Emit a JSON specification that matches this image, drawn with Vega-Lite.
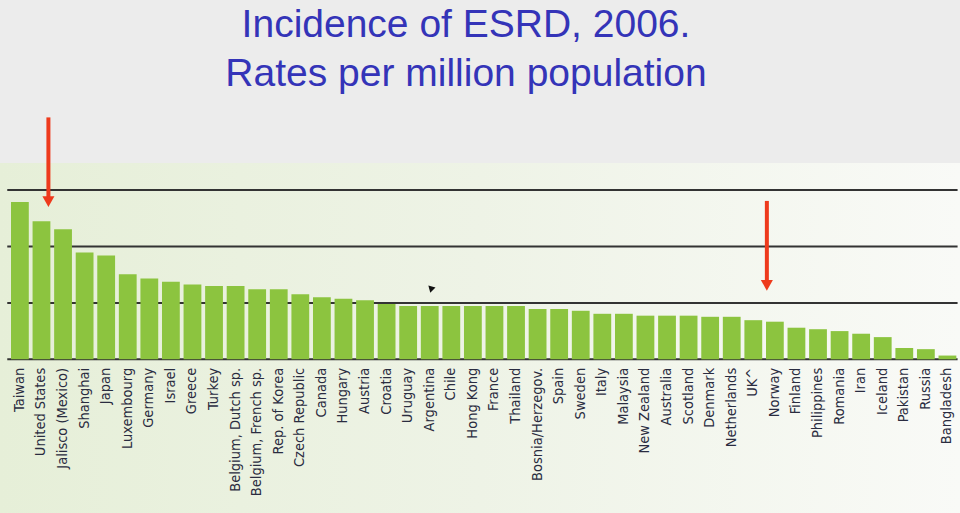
{
  "$schema": "https://vega.github.io/schema/vega-lite/v6.json",
  "width": 960,
  "height": 350,
  "autosize": {"type": "none"},
  "padding": {"top": 163, "left": 0, "right": 0, "bottom": 0},
  "background": "#ececec",
  "view": {
    "stroke": null,
    "fill": {
      "gradient": "linear",
      "x1": 0, "y1": 0, "x2": 1, "y2": 0,
      "stops": [
        {"offset": 0, "color": "#e6efd8"},
        {"offset": 0.5, "color": "#eef3e6"},
        {"offset": 1, "color": "#f9faf7"}
      ]
    }
  },
  "title": {
    "text": ["Incidence of ESRD, 2006.", "Rates per million population"],
    "font": "Liberation Sans",
    "fontSize": 39,
    "fontWeight": "normal",
    "color": "#3434b8",
    "lineHeight": 49,
    "anchor": "middle",
    "frame": "group",
    "offset": 21,
    "dx": -14
  },
  "datasets": {
    "rates": [
      {"country": "Taiwan", "rate": 418},
      {"country": "United States", "rate": 367},
      {"country": "Jalisco (Mexico)", "rate": 346},
      {"country": "Shanghai", "rate": 284},
      {"country": "Japan", "rate": 276},
      {"country": "Luxembourg", "rate": 226},
      {"country": "Germany", "rate": 215},
      {"country": "Israel", "rate": 206},
      {"country": "Greece", "rate": 199},
      {"country": "Turkey", "rate": 195},
      {"country": "Belgium, Dutch sp.", "rate": 195},
      {"country": "Belgium, French sp.", "rate": 186},
      {"country": "Rep. of Korea", "rate": 186},
      {"country": "Czech Republic", "rate": 173},
      {"country": "Canada", "rate": 165},
      {"country": "Hungary", "rate": 161},
      {"country": "Austria", "rate": 157},
      {"country": "Croatia", "rate": 147},
      {"country": "Uruguay", "rate": 142},
      {"country": "Argentina", "rate": 142},
      {"country": "Chile", "rate": 142},
      {"country": "Hong Kong", "rate": 142},
      {"country": "France", "rate": 142},
      {"country": "Thailand", "rate": 142},
      {"country": "Bosnia/Herzegov.", "rate": 134},
      {"country": "Spain", "rate": 134},
      {"country": "Sweden", "rate": 129},
      {"country": "Italy", "rate": 121},
      {"country": "Malaysia", "rate": 121},
      {"country": "New Zealand", "rate": 116},
      {"country": "Australia", "rate": 116},
      {"country": "Scotland", "rate": 116},
      {"country": "Denmark", "rate": 113},
      {"country": "Netherlands", "rate": 113},
      {"country": "UK^", "rate": 104},
      {"country": "Norway", "rate": 100},
      {"country": "Finland", "rate": 84},
      {"country": "Philippines", "rate": 80},
      {"country": "Romania", "rate": 75},
      {"country": "Iran", "rate": 68},
      {"country": "Iceland", "rate": 59},
      {"country": "Pakistan", "rate": 30},
      {"country": "Russia", "rate": 27},
      {"country": "Bangladesh", "rate": 10}
    ],
    "grid": [
      {"g": 0, "from": "Taiwan", "to": "Bangladesh"},
      {"g": 150, "from": "Taiwan", "to": "Bangladesh"},
      {"g": 300, "from": "Taiwan", "to": "Bangladesh"},
      {"g": 450, "from": "Taiwan", "to": "Bangladesh"}
    ],
    "arrows": [
      {"country": "United States", "top": 643, "neck": 426, "tip": 405},
      {"country": "Norway", "top": 421, "neck": 203, "tip": 182}
    ],
    "cursor": [
      {"country": "Argentina", "y": 190}
    ]
  },
  "encoding": {
    "y": {
      "type": "quantitative",
      "scale": {"domain": [-408.5, 521.8], "nice": false, "zero": false},
      "axis": null
    }
  },
  "layer": [
    {
      "data": {"name": "grid"},
      "mark": {"type": "rule", "color": "#333333", "strokeWidth": 2},
      "encoding": {
        "x": {"field": "from", "type": "nominal", "bandPosition": -0.21},
        "x2": {"field": "to", "bandPosition": 1.07},
        "y": {"field": "g", "type": "quantitative"}
      }
    },
    {
      "data": {"name": "rates"},
      "mark": {"type": "bar", "color": "#8cc43f"},
      "encoding": {
        "x": {
          "field": "country",
          "type": "nominal",
          "sort": null,
          "scale": {
            "domain": ["Taiwan", "United States", "Jalisco (Mexico)", "Shanghai", "Japan", "Luxembourg", "Germany", "Israel", "Greece", "Turkey", "Belgium, Dutch sp.", "Belgium, French sp.", "Rep. of Korea", "Czech Republic", "Canada", "Hungary", "Austria", "Croatia", "Uruguay", "Argentina", "Chile", "Hong Kong", "France", "Thailand", "Bosnia/Herzegov.", "Spain", "Sweden", "Italy", "Malaysia", "New Zealand", "Australia", "Scotland", "Denmark", "Netherlands", "UK^", "Norway", "Finland", "Philippines", "Romania", "Iran", "Iceland", "Pakistan", "Russia", "Bangladesh"],
            "paddingInner": 0.175,
            "paddingOuter": 0.34,
            "align": 0.75
          },
          "axis": {
            "orient": "bottom",
            "offset": -153.7,
            "domain": false,
            "ticks": false,
            "tickSize": 0,
            "grid": false,
            "title": null,
            "labelAngle": -90,
            "labelPadding": 8,
            "labelFont": "DejaVu Sans Condensed, Liberation Sans, sans-serif",
            "labelFontSize": 14.5,
            "labelColor": "#2a2c40",
            "labelOverlap": false,
            "labelLimit": 0
          }
        },
        "y": {"field": "rate", "type": "quantitative"},
        "y2": {"datum": 0}
      }
    },
    {
      "data": {"name": "arrows"},
      "transform": [{"filter": "datum.country === 'United States'"}],
      "layer": [
        {
          "mark": {"type": "rule", "color": "#ee3a1c", "strokeWidth": 4},
          "encoding": {
            "x": {"field": "country", "type": "nominal", "bandPosition": 0.89},
            "y": {"field": "top", "type": "quantitative"},
            "y2": {"field": "neck"}
          }
        },
        {
          "mark": {"type": "point", "shape": "M-1,-1.8L1,-1.8L0,0Z", "filled": true, "opacity": 1, "color": "#ee3a1c", "size": 144},
          "encoding": {
            "x": {"field": "country", "type": "nominal", "bandPosition": 0.89},
            "y": {"field": "tip", "type": "quantitative"}
          }
        }
      ]
    },
    {
      "data": {"name": "arrows"},
      "transform": [{"filter": "datum.country === 'Norway'"}],
      "layer": [
        {
          "mark": {"type": "rule", "color": "#ee3a1c", "strokeWidth": 4},
          "encoding": {
            "x": {"field": "country", "type": "nominal", "bandPosition": 0.05},
            "y": {"field": "top", "type": "quantitative"},
            "y2": {"field": "neck"}
          }
        },
        {
          "mark": {"type": "point", "shape": "M-1,-1.8L1,-1.8L0,0Z", "filled": true, "opacity": 1, "color": "#ee3a1c", "size": 144},
          "encoding": {
            "x": {"field": "country", "type": "nominal", "bandPosition": 0.05},
            "y": {"field": "tip", "type": "quantitative"}
          }
        }
      ]
    },
    {
      "data": {"name": "cursor"},
      "mark": {"type": "point", "shape": "triangle-up", "filled": true, "opacity": 1, "color": "#111111", "size": 55, "angle": -45},
      "encoding": {
        "x": {"field": "country", "type": "nominal", "bandPosition": 0.55},
        "y": {"field": "y", "type": "quantitative"}
      }
    }
  ]
}
